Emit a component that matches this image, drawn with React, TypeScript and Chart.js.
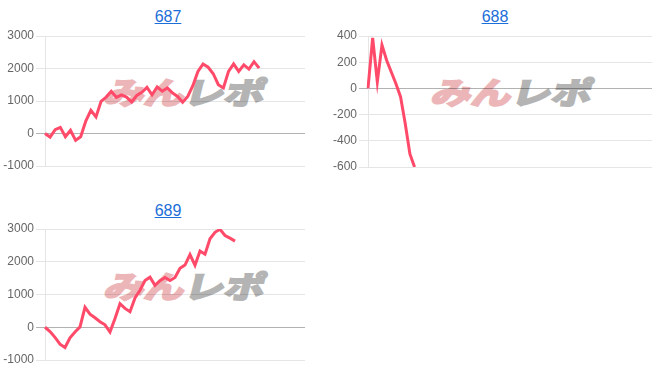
import React, { useEffect, useRef } from "react";
import { Chart, registerables } from "chart.js";

Chart.register(...registerables);

// ---- data ----
const title687 = "687";
const title688 = "688";
const title689 = "689";

const count687 = 52;
const count688 = 62;
const count689 = 53;

const values687 = [
  0, -110, 120, 190, -100, 100, -210, -100, 380, 710, 510, 990, 1120, 1300, 1110,
  1190, 1120, 970, 1170, 1270, 1420, 1190, 1430, 1300, 1400, 1250, 1140, 960, 1140,
  1470, 1910, 2140, 2040, 1840, 1500, 1400, 1910, 2140, 1910, 2110, 1980, 2210, 2010,
];
const values688 = [0, 385, 50, 330, 215, 125, 35, -65, -270, -500, -600];
const values689 = [
  0, -130, -310, -515, -620, -320, -145, 10, 610, 400, 290, 170, 75, -145, 270, 720,
  575, 475, 895, 1130, 1425, 1530, 1280, 1420, 1520, 1430, 1520, 1800, 1900, 2220,
  1890, 2330, 2230, 2700, 2900, 2990, 2800, 2720, 2630,
];

const yRange687 = { min: -1000, max: 3000, step: 1000 };
const yRange688 = { min: -600, max: 400, step: 200 };
const yRange689 = { min: -1000, max: 3000, step: 1000 };

const makeLabels = (n: number) => Array.from({ length: n }, (_, i) => String(i + 1));

const LINE_COLOR = "rgb(255, 74, 106)";
const FONT = "Arial, 'Liberation Sans', Helvetica, sans-serif";

type MiniProps = {
  values: number[];
  count: number;
  range: { min: number; max: number; step: number };
  left: number;
  top: number;
  width: number;
  height: number;
};

function MiniChart({ values, count, range, left, top, width, height }: MiniProps) {
  const ref = useRef<HTMLCanvasElement | null>(null);
  useEffect(() => {
    if (!ref.current) return;
    const chart = new Chart(ref.current, {
      type: "line",
      data: {
        labels: makeLabels(count),
        datasets: [
          {
            data: values,
            borderColor: LINE_COLOR,
            backgroundColor: LINE_COLOR,
            borderWidth: 3,
            pointRadius: 0,
            pointHoverRadius: 0,
            tension: 0,
            fill: false,
          },
        ],
      },
      options: {
        responsive: false,
        animation: false,
        devicePixelRatio: 1,
        layout: { padding: { top: 10, bottom: 10, left: 0, right: 10 } },
        plugins: {
          legend: { display: false },
          title: { display: false },
          tooltip: { enabled: false },
        },
        scales: {
          x: { display: false },
          y: {
            min: range.min,
            max: range.max,
            afterFit: (scale: any) => {
              scale.width = 45;
            },
            ticks: {
              stepSize: range.step,
              color: "#666",
              padding: 2,
              font: { family: FONT, size: 12 },
              callback: (v: any) => String(v),
            },
            grid: {
              color: (ctx: any) =>
                ctx.tick && ctx.tick.value === 0 ? "rgba(0,0,0,0.3)" : "rgba(0,0,0,0.1)",
              tickLength: 9,
            },
            border: { display: true, color: "rgba(0,0,0,0.1)" },
          },
        },
      },
    });
    return () => chart.destroy();
  }, [values, count, range]);
  return (
    <canvas
      ref={ref}
      width={width}
      height={height}
      style={{ position: "absolute", left, top, width, height }}
    />
  );
}

function Title({ text, cx, top }: { text: string; cx: number; top: number }) {
  return (
    <div
      style={{
        position: "absolute",
        left: cx - 50,
        top,
        width: 100,
        textAlign: "center",
        fontFamily: FONT,
        fontSize: 16,
        lineHeight: "normal",
      }}
    >
      <a href="#" style={{ color: "#1c6ed8", textDecoration: "underline" }}>
        {text}
      </a>
    </div>
  );
}

function Watermark({ left, top }: { left: number; top: number }) {
  const base: React.CSSProperties = {
    display: "inline-block",
    width: 80,
    fontFamily: "'Noto Sans CJK JP', sans-serif",
    fontWeight: 700,
    fontSize: 40,
    lineHeight: "40px",
    letterSpacing: 0,
    whiteSpace: "nowrap",
  };
  return (
    <div
      style={{
        position: "absolute",
        left,
        top,
        width: 170,
        height: 40,
        transform: "skewX(-14deg) scaleY(0.76)",
        transformOrigin: "left top",
        display: "flex",
      }}
    >
      <span
        style={{
          ...base,
          color: "rgb(236,182,185)",
          WebkitTextStroke: "3px rgb(236,182,185)",
        }}
      >
        みん
      </span>
      <span
        style={{
          ...base,
          color: "rgb(180,180,180)",
          WebkitTextStroke: "3px rgb(180,180,180)",
        }}
      >
        レポ
      </span>
    </div>
  );
}

export default function App() {
  return (
    <div
      style={{
        position: "absolute",
        left: 0,
        top: 0,
        width: 652,
        height: 382,
        overflow: "hidden",
        background: "#fff",
      }}
    >
      <Watermark left={110} top={76} />
      <Watermark left={437} top={76} />
      <Watermark left={110} top={270} />

      <Title text={title687} cx={168} top={8} />
      <Title text={title688} cx={495} top={8} />
      <Title text={title689} cx={168} top={202} />

      <MiniChart values={values687} count={count687} range={yRange687} left={0} top={26} width={315} height={150} />
      <MiniChart values={values688} count={count688} range={yRange688} left={323} top={26} width={339} height={151} />
      <MiniChart values={values689} count={count689} range={yRange689} left={0} top={219} width={315} height={151} />
    </div>
  );
}
